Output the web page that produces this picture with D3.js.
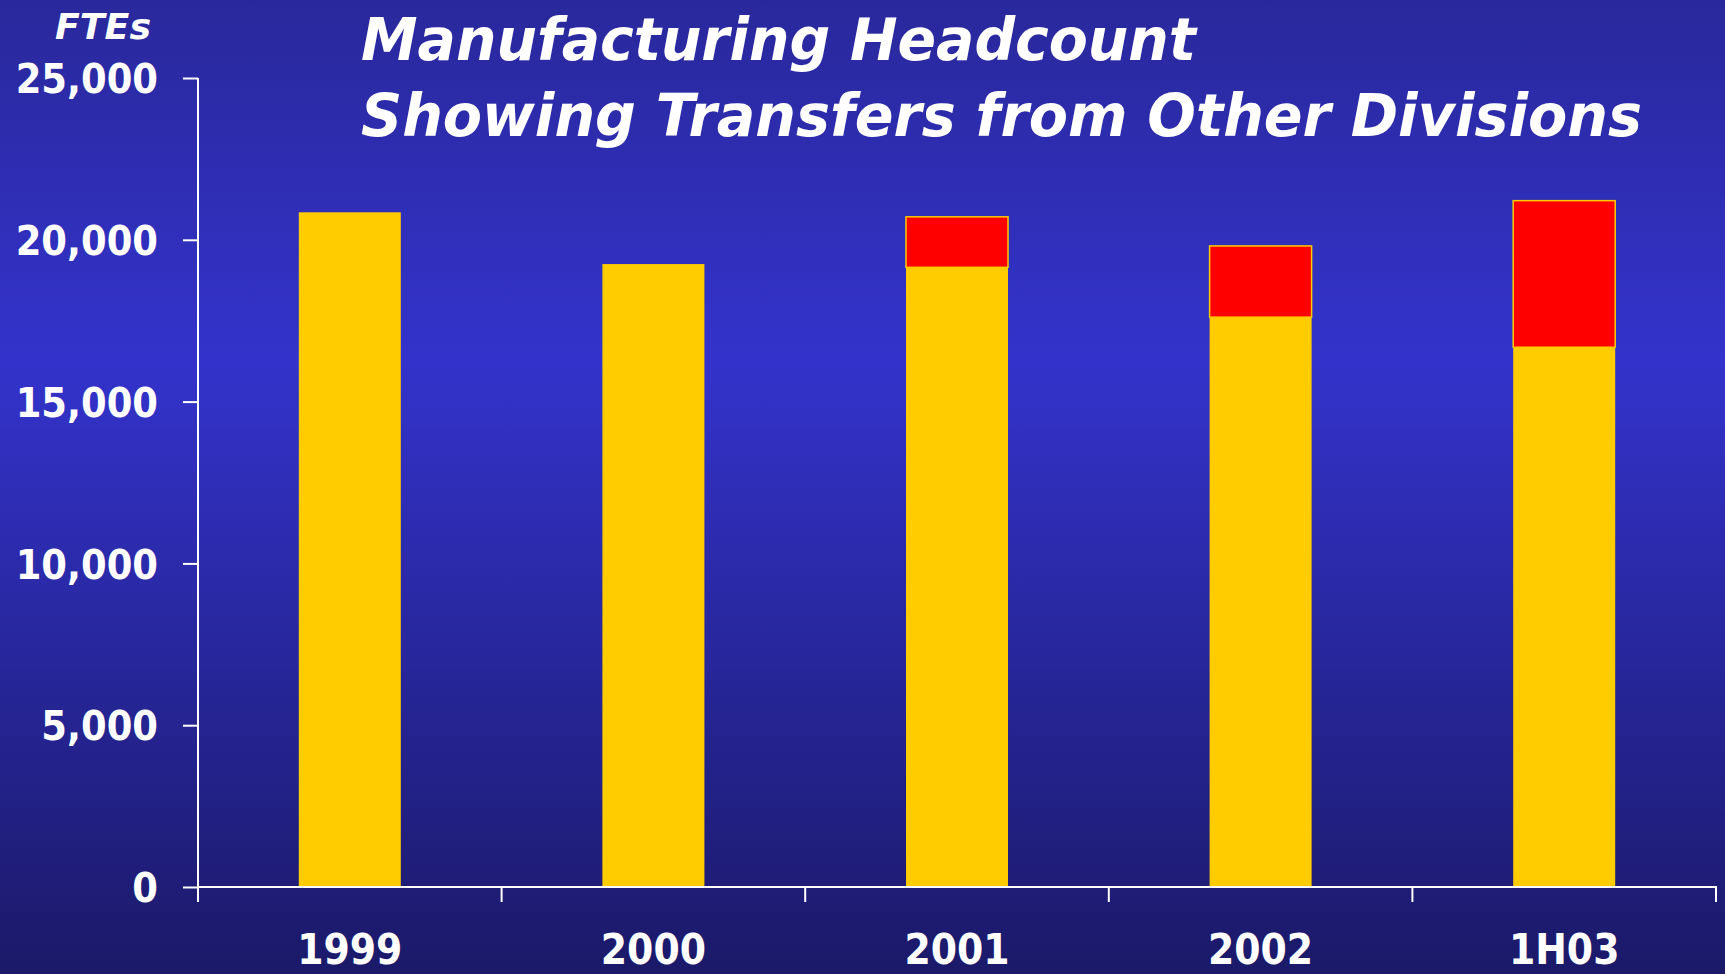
<!DOCTYPE html>
<html>
<head>
<meta charset="utf-8">
<script src="https://cdn.jsdelivr.net/npm/d3@7"></script>
<style>
html,body{margin:0;padding:0;background:#2a2aa0;}
svg{display:block;}
</style>
</head>
<body>
<svg id="chart" width="1725" height="974"></svg>
<script>
// ---- data ----
const categories = ["1999", "2000", "2001", "2002", "1H03"];
const baseHeadcount = [20850, 19250, 19150, 17610, 16680];
const transfers = [0, 0, 1560, 2200, 4530];
const yTicks = [0, 5000, 10000, 15000, 20000, 25000];
const titleLines = ["Manufacturing Headcount", "Showing Transfers from Other Divisions"];
const yAxisTitle = "FTEs";

const W = 1725, H = 974;
const svg = d3.select("#chart");

// background gradient
const defs = svg.append("defs");
const grad = defs.append("linearGradient").attr("id", "bg").attr("x1", 0).attr("y1", 0).attr("x2", 0).attr("y2", 1);
grad.append("stop").attr("offset", "0%").attr("stop-color", "#29289b");
grad.append("stop").attr("offset", "37%").attr("stop-color", "#3333cc");
grad.append("stop").attr("offset", "100%").attr("stop-color", "#1b1968");
svg.append("rect").attr("width", W).attr("height", H).attr("fill", "url(#bg)");

const x = d3.scaleBand().domain(categories).range([198, 1716]).padding(0);
const y = d3.scaleLinear().domain([0, 25000]).range([887, 78]);
const barFrac = 0.336;
const bw = x.bandwidth() * barFrac;
const bx = d => x(d) + (x.bandwidth() - bw) / 2;

const labelFont = "'DejaVu Sans Condensed', 'DejaVu Sans', sans-serif";

// bars
const rows = categories.map((c, i) => ({c, base: baseHeadcount[i], tr: transfers[i]}));
svg.append("g").selectAll("rect").data(rows).join("rect")
  .attr("x", d => bx(d.c)).attr("width", bw)
  .attr("y", d => y(d.base)).attr("height", d => y(0) - y(d.base))
  .attr("fill", "#ffcc00");
svg.append("g").selectAll("rect").data(rows.filter(d => d.tr > 0)).join("rect")
  .attr("x", d => bx(d.c)).attr("width", bw)
  .attr("y", d => y(d.base + d.tr)).attr("height", d => y(d.base) - y(d.base + d.tr))
  .attr("fill", "#ff0000").attr("stroke", "#ffcc00").attr("stroke-width", 1.5);

// y axis
const yAxis = svg.append("g").attr("transform", "translate(198,0)")
  .call(d3.axisLeft(y).tickValues(yTicks).tickSize(15).tickPadding(25).tickFormat(d3.format(",")));
yAxis.select(".domain").remove();
yAxis.selectAll(".tick line").attr("stroke", "#ffffff").attr("stroke-width", 2);
yAxis.selectAll(".tick text").attr("fill", "#ffffff")
  .style("font-family", labelFont)
  .style("font-weight", "bold").style("font-size", "41px").attr("dy", "0.36em");
svg.append("line").attr("x1", 198).attr("x2", 198).attr("y1", y(25000)).attr("y2", y(0) + 15)
  .attr("stroke", "#ffffff").attr("stroke-width", 2);

// x axis
const xg = svg.append("g").attr("transform", `translate(0,${y(0)})`);
xg.append("line").attr("x1", 198).attr("x2", 1717).attr("stroke", "#ffffff").attr("stroke-width", 2);
const bounds = categories.map(c => x(c)).concat([x(categories[categories.length - 1]) + x.bandwidth()]);
xg.selectAll("line.bt").data(bounds.slice(1)).join("line").attr("class", "bt")
  .attr("x1", d => d).attr("x2", d => d).attr("y1", 0).attr("y2", 15)
  .attr("stroke", "#ffffff").attr("stroke-width", 2);
xg.selectAll("text").data(categories).join("text")
  .attr("x", d => x(d) + x.bandwidth() / 2).attr("y", 77)
  .attr("text-anchor", "middle").attr("fill", "#ffffff")
  .style("font-family", labelFont)
  .style("font-weight", "bold").style("font-size", "42px")
  .text(d => d);

// y axis title
svg.append("text").attr("x", 55).attr("y", 39).attr("fill", "#ffffff")
  .style("font-family", "'DejaVu Sans', sans-serif").style("font-weight", "bold")
  .style("font-style", "italic").style("font-size", "36px")
  .attr("textLength", 96).attr("lengthAdjust", "spacingAndGlyphs")
  .text(yAxisTitle);

// title
const tl = [{t: titleLines[0], y: 60, w: 835}, {t: titleLines[1], y: 136, w: 1281}];
svg.selectAll("text.title").data(tl).join("text").attr("class", "title")
  .attr("x", 361).attr("y", d => d.y).attr("fill", "#ffffff")
  .style("font-family", "'DejaVu Sans', sans-serif").style("font-weight", "bold")
  .style("font-style", "italic").style("font-size", "58px")
  .attr("textLength", d => d.w).attr("lengthAdjust", "spacingAndGlyphs")
  .text(d => d.t);
</script>
</body>
</html>
